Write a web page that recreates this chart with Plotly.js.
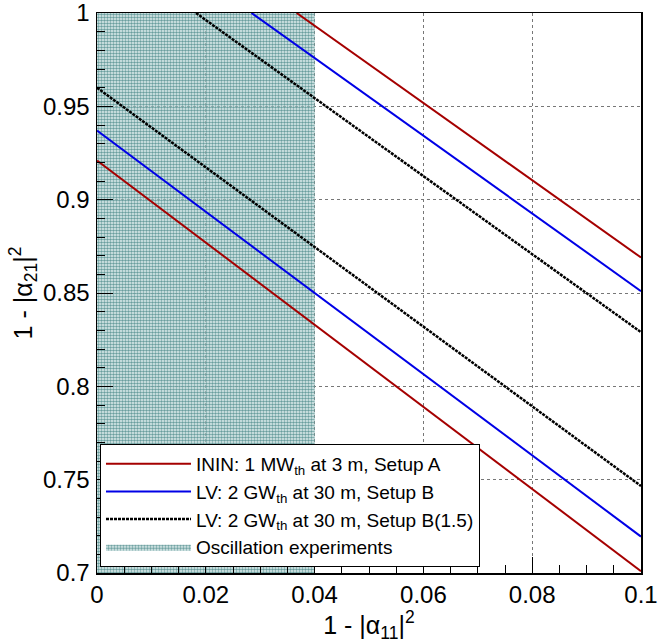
<!DOCTYPE html>
<html>
<head>
<meta charset="utf-8">
<script src="https://cdn.plot.ly/plotly-3.0.1.min.js"></script>
<style>html,body{margin:0;padding:0;background:#fff;}#chart{width:660px;height:643px;}</style>
</head>
<body>
<div id="chart"></div>
<script>
// Series: each has a lower boundary line (from x=0) and an upper one (from y=1), separated by null
const seriesNames = [
  "ININ: 1 MW<sub>th</sub> at 3 m, Setup A",
  "LV: 2 GW<sub>th</sub> at 30 m, Setup B",
  "LV: 2 GW<sub>th</sub> at 30 m, Setup B(1.5)",
  "Oscillation experiments"
];
const redX   = [0, 0.1, null, 0.0367, 0.1];
const redY   = [0.921, 0.701, null, 1.0, 0.869];
const blueX  = [0, 0.1, null, 0.0284, 0.1];
const blueY  = [0.937, 0.7195, null, 1.0, 0.851];
const blackX = [0, 0.1, null, 0.0182, 0.1];
const blackY = [0.960, 0.7466, null, 1.0, 0.829];
// Excluded region from oscillation experiments: 1-|a11|^2 < 0.04
const oscX = [0, 0.04, 0.04, 0, 0];
const oscY = [0.7, 0.7, 1.0, 1.0, 0.7];

const xTickVals = [0, 0.02, 0.04, 0.06, 0.08, 0.1];
const xTickText = ["0", "0.02", "0.04", "0.06", "0.08", "0.1"];
const yTickVals = [0.7, 0.75, 0.8, 0.85, 0.9, 0.95, 1.0];
const yTickText = ["0.7", "0.75", "0.8", "0.85", "0.9", "0.95", "1"];

const FONT = "Liberation Sans, Arial, Helvetica, sans-serif";

const traces = [
  {
    x: oscX, y: oscY, type: "scatter", mode: "lines", fill: "toself",
    name: seriesNames[3], legendrank: 4,
    line: {width: 0, color: "rgba(0,0,0,0)"},
    fillcolor: "rgba(150,195,195,0.55)",
    fillpattern: {shape: ".", size: 3, solidity: 0.55, fgcolor: "#6a9e9e", bgcolor: "rgba(210,232,232,0.5)", fillmode: "replace"},
    hoverinfo: "skip"
  },
  {
    x: redX, y: redY, type: "scatter", mode: "lines", name: seriesNames[0], legendrank: 1,
    line: {color: "#a50000", width: 2}
  },
  {
    x: blueX, y: blueY, type: "scatter", mode: "lines", name: seriesNames[1], legendrank: 2,
    line: {color: "#0000e6", width: 2}
  },
  {
    x: blackX, y: blackY, type: "scatter", mode: "lines", name: seriesNames[2], legendrank: 3,
    line: {color: "#000000", width: 2.5, dash: "3px,1px"}
  }
];

const axisCommon = {
  showline: true, linecolor: "#000", linewidth: 1.5, mirror: true,
  ticks: "inside", tickcolor: "#000", tickwidth: 1,
  showgrid: true, gridcolor: "#777", griddash: "dot", gridwidth: 1,
  zeroline: false,
  tickfont: {family: FONT, size: 24, color: "#000"},
  ticklabeloverflow: "allow",
  tickmode: "array"
};

const layout = {
  width: 660, height: 643,
  margin: {l: 97, r: 19, t: 13, b: 70},
  paper_bgcolor: "#fff", plot_bgcolor: "#fff",
  font: {family: FONT, color: "#000"},
  showlegend: true,
  legend: {
    x: 0.0055, y: 0.011, xanchor: "left", yanchor: "bottom",
    bgcolor: "#fff", bordercolor: "#000", borderwidth: 1,
    font: {family: FONT, size: 19, color: "#000"},
    tracegroupgap: 0, itemwidth: 85
  },
  xaxis: Object.assign({}, axisCommon, {
    range: [0, 0.1],
    tickvals: xTickVals, ticktext: xTickText,
    ticklen: 16,
    ticklabelstandoff: 0,
    minor: {dtick: 0.005, ticks: "inside", ticklen: 8, tickcolor: "#000", showgrid: false},
    title: {text: "1 - |α<sub>11</sub>|<sup>2</sup>", font: {family: FONT, size: 25, color: "#000"}, standoff: 2}
  }),
  yaxis: Object.assign({}, axisCommon, {
    range: [0.7, 1.0],
    tickvals: yTickVals, ticktext: yTickText,
    ticklen: 16,
    ticklabelstandoff: 1,
    minor: {dtick: 0.01, ticks: "inside", ticklen: 8, tickcolor: "#000", showgrid: false},
    title: {text: "1 - |α<sub>21</sub>|<sup>2</sup>", font: {family: FONT, size: 25, color: "#000"}, standoff: 3}
  })
};

Plotly.newPlot("chart", traces, layout, {displayModeBar: false, staticPlot: true});
</script>
</body>
</html>
